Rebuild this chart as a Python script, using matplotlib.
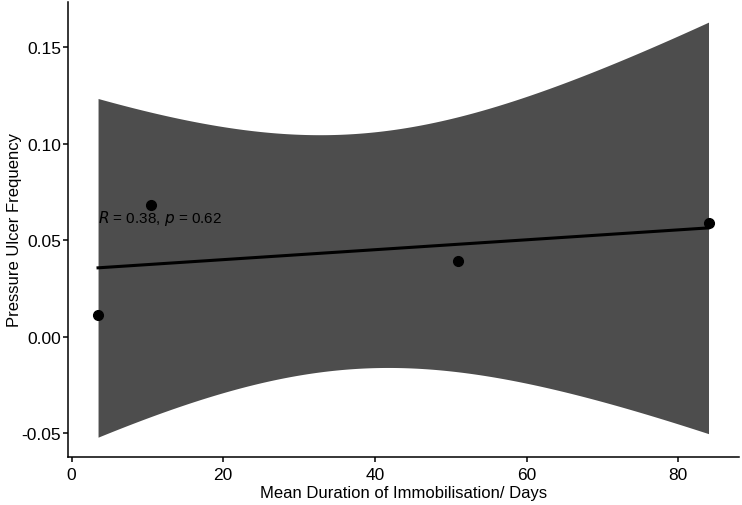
import numpy as np
import matplotlib.pyplot as plt

plt.rcParams['font.family'] = ['Liberation Sans', 'DejaVu Sans']

# data
duration = np.array([3.5, 10.5, 51.0, 84.0])
ulcer_freq = np.array([0.0115, 0.068, 0.039, 0.059])
cor_label = r"$\it{R}$ = 0.38, $\it{p}$ = 0.62"
x_ticks = [0, 20, 40, 60, 80]
y_ticks = [-0.05, 0.00, 0.05, 0.10, 0.15]

# linear fit with 95% confidence band (like geom_smooth(method="lm"))
n = len(duration)
slope, intercept = np.polyfit(duration, ulcer_freq, 1)
resid = ulcer_freq - (intercept + slope * duration)
s = np.sqrt(np.sum(resid ** 2) / (n - 2))
t_crit = 4.302653  # t(0.975, df=2)
xs = np.linspace(duration.min(), duration.max(), 200)
fit = intercept + slope * xs
se = s * np.sqrt(1 / n + (xs - duration.mean()) ** 2 / np.sum((duration - duration.mean()) ** 2))

fig = plt.figure(figsize=(7.42, 5.06), dpi=100)
ax = fig.add_axes([0.091, 0.095, 0.905, 0.9])

ax.fill_between(xs, fit - t_crit * se, fit + t_crit * se, color="#4d4d4d", lw=0, zorder=1)
ax.plot(duration, ulcer_freq, "o", color="black", ms=7, zorder=2)
ax.plot(xs, fit, color="black", lw=2.2, zorder=3)
ax.text(duration.min(), 0.0595, cor_label, fontsize=11, color="black", zorder=4)

ax.set_xlim(-0.525, 88.025)
ax.set_ylim(-0.0623, 0.1737)
ax.set_xticks(x_ticks)
ax.set_yticks(y_ticks)
ax.set_yticklabels(["-0.05", "0.00", "0.05", "0.10", "0.15"])
for side in ["top", "right"]:
    ax.spines[side].set_visible(False)
for side in ["left", "bottom"]:
    ax.spines[side].set_linewidth(1.1)
ax.tick_params(length=3.6, width=1.1, labelsize=12.5, colors="black")
ax.tick_params(axis="x", pad=3.5)
ax.tick_params(axis="y", pad=1)
ax.set_xlabel("Mean Duration of Immobilisation/ Days", fontsize=12, labelpad=2)
ax.set_ylabel("Pressure Ulcer Frequency", fontsize=12)
ax.yaxis.set_label_coords(-0.068, 0.5)

plt.savefig("out.png", dpi=100)
